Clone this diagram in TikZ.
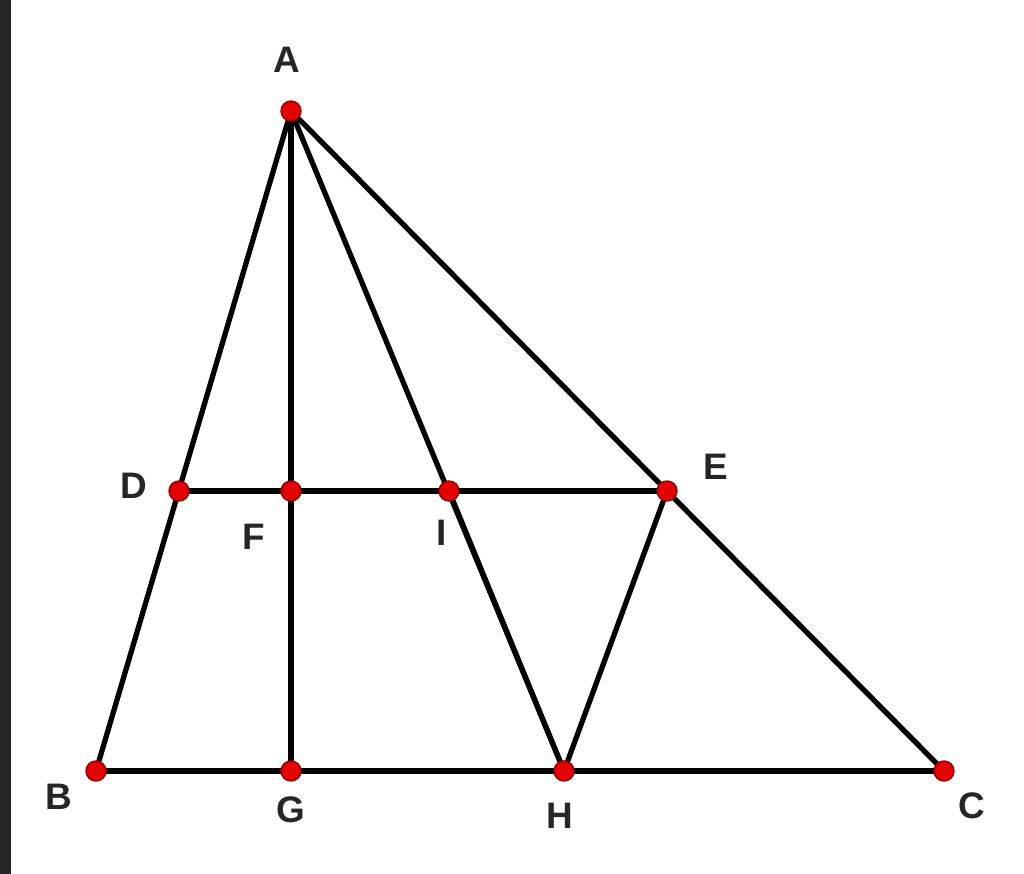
\documentclass[tikz,border=0pt]{standalone}
\usepackage{fontspec}
\setmainfont{Liberation Sans}
\begin{document}
\begin{tikzpicture}[x=0.02cm,y=-0.02cm,
  seg/.style={line width=3pt,line cap=round,black},
  pt/.style={circle,fill=red!90!black,draw=red!60!black,line width=0.8pt,inner sep=0pt,minimum size=0.4cm},
  lbl/.style={font=\bfseries\fontsize{21}{25}\selectfont,text=black!85}]
\useasboundingbox (0,0) rectangle (1024,874);
\fill[black!85] (0,0) rectangle (11,874);
\coordinate (A) at (291,111);
\coordinate (D) at (179,491);
\coordinate (F) at (291,491);
\coordinate (I) at (449,491);
\coordinate (E) at (667,491);
\coordinate (B) at (96,771);
\coordinate (G) at (291,771);
\coordinate (H) at (564,771);
\coordinate (C) at (944,771);
\draw[seg] (A) -- (B);
\draw[seg] (A) -- (G);
\draw[seg] (A) -- (H);
\draw[seg] (A) -- (C);
\draw[seg] (B) -- (C);
\draw[seg] (D) -- (E);
\draw[seg] (I) -- (H);
\draw[seg] (H) -- (E);
\foreach \p in {A,D,F,I,E,B,G,H,C} \node[pt] (n\p) at (\p) {};
\node[lbl] (lA) at (287,60) {A};
\node[lbl] (lD) at (134,486) {D};
\node[lbl] (lF) at (254,537) {F};
\node[lbl] (lI) at (442,533) {I};
\node[lbl] (lE) at (716,467) {E};
\node[lbl] (lB) at (59,797) {B};
\node[lbl] (lG) at (291,810) {G};
\node[lbl] (lH) at (560,816) {H};
\node[lbl] (lC) at (972,806) {C};
\end{tikzpicture}
\end{document}
